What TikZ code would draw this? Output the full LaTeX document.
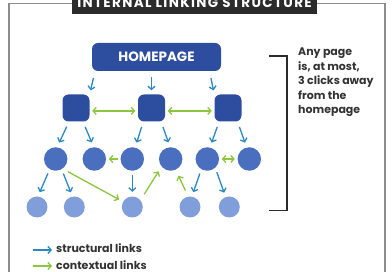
\documentclass[tikz,border=0pt]{standalone}
\usepackage{fontspec}
\setmainfont{Poppins}
\usetikzlibrary{arrows.meta,positioning,calc}
\definecolor{LinkNavy}{HTML}{2D4E9F}
\definecolor{LinkMid}{HTML}{4A6FBF}
\definecolor{LinkLight}{HTML}{809FDA}
\definecolor{LinkBlue}{HTML}{2B88C4}
\definecolor{LinkGreen}{HTML}{8CC63F}
\definecolor{LinkDark}{HTML}{2B2B2B}
\definecolor{LinkFrame}{HTML}{8C8C8C}
\definecolor{LinkText}{HTML}{333333}

\begin{document}
\begin{tikzpicture}[x=1pt, y=-1pt,
  >={Straight Barb[length=3.2pt,width=7pt]},
  pagebox/.style={fill=LinkNavy, rounded corners=6pt, inner sep=0pt},
  midnode/.style={circle, fill=LinkMid, minimum size=23.5pt, inner sep=0pt},
  lownode/.style={circle, fill=LinkLight, minimum size=21pt, inner sep=0pt},
  slink/.style={->, LinkBlue, line width=1.3pt, shorten <=5.5pt, shorten >=5pt},
  clink/.style={->, LinkGreen, line width=1.3pt, shorten <=2.5pt, shorten >=2.5pt},
  legendtext/.style={anchor=base west, inner sep=0pt, text=LinkText, font=\bfseries\fontsize{11}{13}\selectfont}]
\useasboundingbox (0,0) rectangle (392,272);

% Frame and title bar
\draw[LinkFrame, line width=1.2pt] (9,3.5) rectangle (385,300);
\node[fill=LinkDark, text=white, minimum width=245pt, text depth=0pt, inner ysep=6.5pt, anchor=base,
  font=\bfseries\fontsize{13.5}{13.5}\selectfont\addfontfeatures{LetterSpace=10}] (title) at (194.5,7.5) {INTERNAL LINKING STRUCTURE};

% Pages
\node[pagebox, minimum width=129pt, minimum height=28pt, text=white,
  font=\bfseries\fontsize{13.5}{13.5}\selectfont] (hp) at (156.5,57) {HOMEPAGE};
\foreach \n/\x in {1/76, 2/151.5, 3/228}
  \node[pagebox, minimum size=27pt] (s\n) at (\x,108) {};
\foreach \n/\x in {1/55.7, 2/94.3, 3/132.3, 4/170.7, 5/207.3, 6/249.3}
  \node[midnode] (c\n) at (\x,159) {};
\foreach \n/\x in {1/37, 2/74.3, 3/132.3, 4/190, 5/229.3}
  \node[lownode] (d\n) at (\x,207) {};

% Structural links
\draw[slink, shorten <=7pt, shorten >=4pt] (hp.193) -- (s1.45);
\draw[slink, shorten <=6pt, shorten >=4pt] (s2 |- hp.south) -- (s2.north);
\draw[slink, shorten <=7pt, shorten >=4pt] (hp.-15.5) -- (s3.135);
\foreach \a/\b in {s1.243/c1.83, s1.-63/c2.93, s2.239/c3.76, s2.-55/c4.93, s3.237/c5.77, s3.-55/c6.103}
  \draw[slink] (\a) -- (\b);
\foreach \a/\b in {c1.240/d1.85, c1.-60/d2.100, c3.south/d3.north, c5.240/d4.80, c5.-48/d5.110}
  \draw[slink, shorten <=4.5pt, shorten >=4.5pt] (\a) -- (\b);

% Contextual links
\draw[clink, <->] (s1.-12) -- (s2.192);
\draw[clink, <->] (s2.-12) -- (s3.192);
\draw[clink] (c3.west) -- (c2.east);
\draw[clink, <->] (c5.east) -- (c6.west);
\draw[clink, shorten <=6pt, shorten >=4.5pt] (c1.-55) -- (d3.150);
\draw[clink, shorten <=7pt, shorten >=5.5pt] (d3.40) -- (c4.220);
\draw[clink, shorten <=6.5pt, shorten >=6.5pt] (d4.100) -- (c4.-65);

% Bracket and note
\draw[LinkDark, line width=1.5pt] (269,56) -| (287,210.7) -- (269,210.7);
\node[anchor=base west, align=left, inner sep=0pt, text=LinkText,
  font=\bfseries\fontsize{11}{14.5}\selectfont] (note) at (298,113.7)
  {Any page\\is, at most,\\3 clicks away\\from the\\homepage};

% Legend
\node[legendtext] (lgs) at (56,253) {structural links};
\node[legendtext] (lgc) at (56,269.5) {contextual links};
\coordinate (lgsa) at (32.5,250);
\coordinate (lgca) at (32.5,266);
\draw[slink, shorten <=0pt, shorten >=4pt] (lgsa) -- (lgsa -| lgs.west);
\draw[clink, shorten <=0pt, shorten >=4pt] (lgca) -- (lgca -| lgc.west);
\end{tikzpicture}
\end{document}
